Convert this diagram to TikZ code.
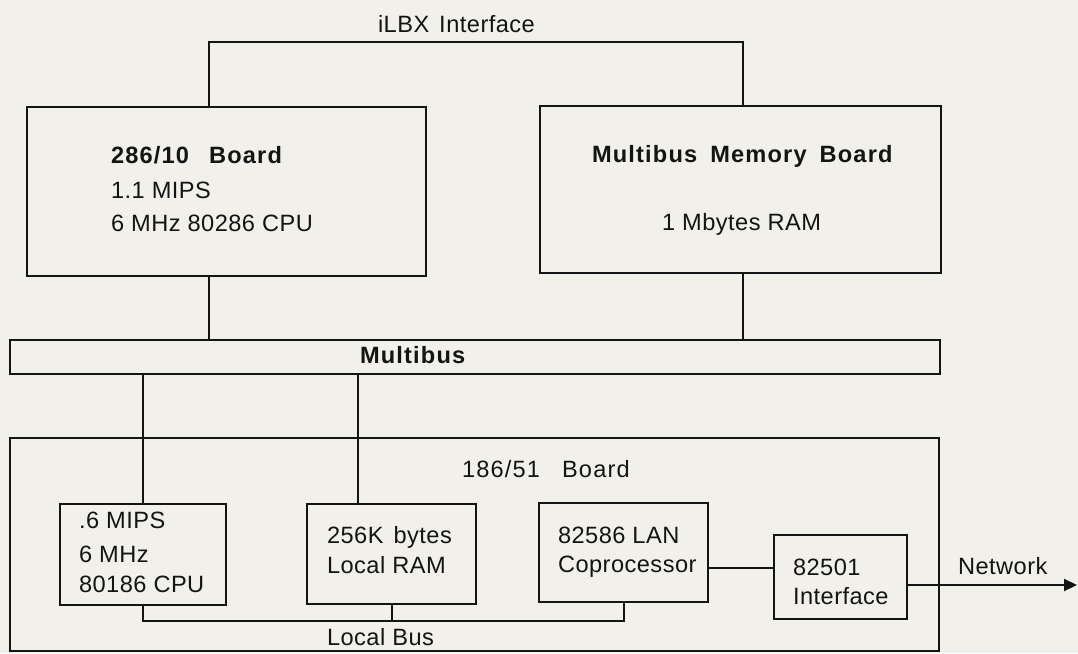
\documentclass[tikz,border=0pt]{standalone}
\usepackage{fontspec}
\setmainfont{Liberation Sans}
\newfontfamily\hdfont[LetterSpace=5]{Liberation Sans}
\newfontfamily\txfont[LetterSpace=2]{Liberation Sans}
\usetikzlibrary{arrows.meta}
\definecolor{paper}{RGB}{241,240,234}
\definecolor{ink}{RGB}{20,20,20}
\begin{document}
\begin{tikzpicture}[x=1pt,y=-1pt,
  box/.style={draw=ink, line width=2pt, inner sep=0pt, outer sep=0pt, rectangle},
  wire/.style={draw=ink, line width=2pt},
  lbl/.style={anchor=base west, inner sep=0pt, outer sep=0pt, text=ink, font=\txfont\fontsize{23.6}{28}\selectfont},
  hd/.style={anchor=base west, inner sep=0pt, outer sep=0pt, text=ink, font=\hdfont\bfseries\fontsize{23.6}{28}\selectfont},
  hdr/.style={anchor=base west, inner sep=0pt, outer sep=0pt, text=ink, font=\hdfont\fontsize{23.6}{28}\selectfont}]
\useasboundingbox (0,0) rectangle (1078,653);
\fill[paper] (0,0) rectangle (1078,653);

% boxes
\node[box, minimum width=399pt, minimum height=169pt] (b286) at (226.5,191.5) {};
\node[box, minimum width=401pt, minimum height=167pt] (mem) at (740.5,189.5) {};
\node[box, minimum width=930pt, minimum height=34pt] (mbus) at (475,357) {};
\node[box, minimum width=929pt, minimum height=213pt] (b186) at (474.5,544.5) {};
\node[box, minimum width=166pt, minimum height=101pt] (cpu) at (143,554.5) {};
\node[box, minimum width=169pt, minimum height=100pt] (ram) at (391.5,554) {};
\node[box, minimum width=169pt, minimum height=99pt] (lan) at (623.5,552.5) {};
\node[box, minimum width=133pt, minimum height=84pt] (i501) at (840.5,577) {};

% helper coordinates
\coordinate (ilbxL) at (209,42);
\coordinate (ilbxR) at (743,42);
\coordinate (rtap) at (358,0);
\coordinate (lbus) at (0,621);
\coordinate (link) at (0,568);
\coordinate (net) at (0,585);
\coordinate (netend) at (1077,585);

% connectors
\draw[wire] (b286.north -| ilbxL) -- (ilbxL) -- (ilbxR) -- (mem.north -| ilbxR);
\draw[wire] (b286.south -| ilbxL) -- (mbus.north -| ilbxL);
\draw[wire] (mem.south -| ilbxR) -- (mbus.north -| ilbxR);
\draw[wire] (mbus.south -| cpu.north) -- (cpu.north);
\draw[wire] (mbus.south -| rtap) -- (ram.north -| rtap);
\draw[wire] (cpu.south) -- (cpu.south |- lbus) -- (lan.south |- lbus) -- (lan.south);
\draw[wire] (ram.south) -- (ram.south |- lbus);
\draw[wire] (lan.east |- link) -- (i501.west |- link);
\draw[wire, -{Triangle[length=13pt,width=12pt]}] (i501.east |- net) -- (netend);

% texts
\node[lbl] (tilbx) at (378,32) {iLBX\hspace{10pt}Interface};
\node[hd] (t286a) at (111,163) {286/10\hspace{20pt}Board};
\node[lbl] (t286b) at (111,198) {1.1 MIPS};
\node[lbl] (t286c) at (111,231) {6 MHz 80286 CPU};
\node[hd] (tmema) at (592,162) {Multibus\hspace{13pt}Memory\hspace{13pt}Board};
\node[lbl] (tmemb) at (662,230) {1 Mbytes RAM};
\node[hd] (tmbus) at (360,363) {Multibus};
\node[hdr] (t186) at (462,477) {186/51\hspace{22pt}Board};
\node[lbl] (tcpua) at (79,528) {.6 MIPS};
\node[lbl] (tcpub) at (79,562) {6 MHz};
\node[lbl] (tcpuc) at (79,592) {80186 CPU};
\node[lbl] (trama) at (327,543) {256K\hspace{10pt}bytes};
\node[lbl] (tramb) at (327,573) {Local RAM};
\node[lbl] (tlana) at (558,543) {82586\hspace{7pt}LAN};
\node[lbl] (tlanb) at (558,572) {Coprocessor};
\node[lbl] (t501a) at (793,575) {82501};
\node[lbl] (t501b) at (793,604) {Interface};
\node[lbl] (tnet) at (958,574) {Network};
\node[lbl] (tlbus) at (327,645) {Local Bus};
\end{tikzpicture}
\end{document}
